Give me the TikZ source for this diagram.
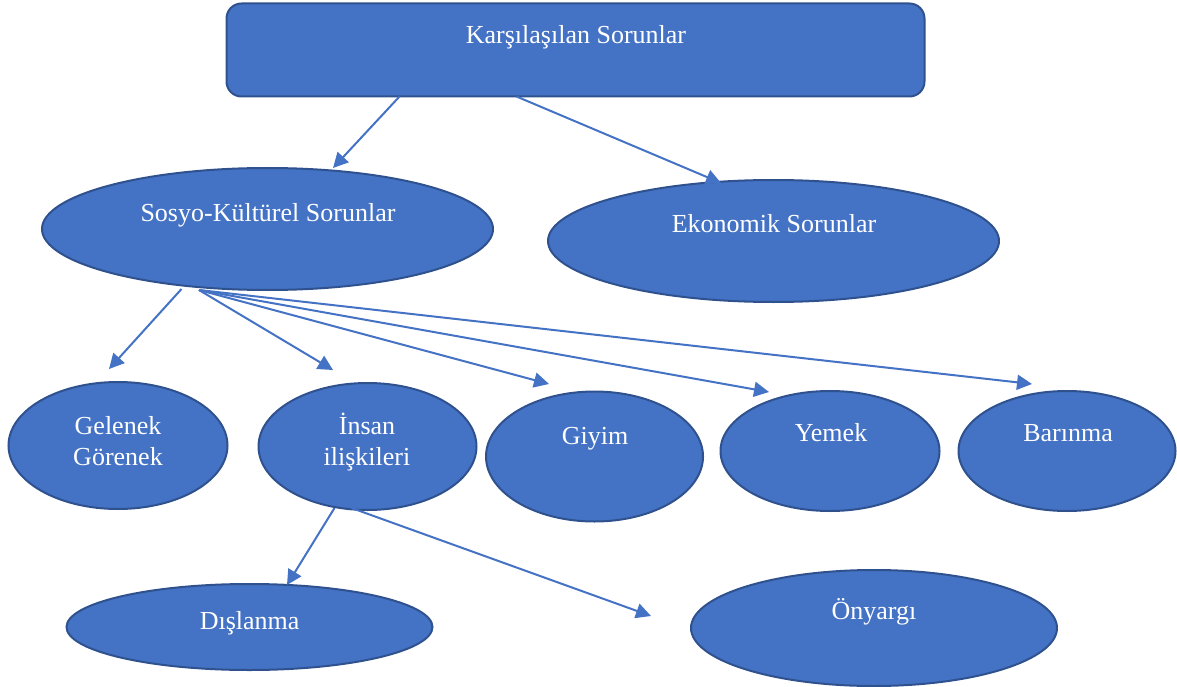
\documentclass[tikz,border=0pt]{standalone}
\usepackage{fontspec}
\setmainfont{Liberation Serif}
\usetikzlibrary{shapes.geometric,arrows.meta,calc}
\definecolor{fillblue}{HTML}{4472C4}
\definecolor{edgeblue}{HTML}{2F528F}
\definecolor{arrowblue}{HTML}{4472C4}
\tikzset{
  topbox/.style={draw=edgeblue,fill=fillblue,line width=2pt,rounded corners=15pt,inner sep=0pt,outer sep=0pt},
  ellbox/.style={ellipse,draw=edgeblue,fill=fillblue,line width=2pt,inner sep=0pt,outer sep=0pt},
  lbl/.style={text=white,font=\fontsize{26}{31}\selectfont,anchor=base,inner sep=0pt},
  arr/.style={draw=arrowblue,line width=2pt,-{Triangle[length=15pt,width=15pt]}}
}
\begin{document}
\begin{tikzpicture}[x=1pt,y=-1pt]
\useasboundingbox (0,0) rectangle (1177,687);
% nodes
\node[topbox,minimum width=698,minimum height=93] (top) at (575.5,50) {};
\node[lbl] (topt) at (576,44) {Karşılaşılan Sorunlar};

\node[ellbox,minimum width=451,minimum height=122] (sosyo) at (267.5,229) {};
\node[lbl] (sosyot) at (268,221) {Sosyo-Kültürel Sorunlar};

\node[ellbox,minimum width=451,minimum height=122] (eko) at (773.5,241) {};
\node[lbl] (ekot) at (774,232) {Ekonomik Sorunlar};

\node[ellbox,minimum width=219,minimum height=127] (gel) at (118,445.5) {};
\node[lbl] (gelt) at (118,434) {\begin{tabular}[t]{@{}c@{}}Gelenek\\Görenek\end{tabular}};

\node[ellbox,minimum width=218,minimum height=127] (insan) at (367.5,446.5) {};
\node[lbl] (insant) at (367,434) {\begin{tabular}[t]{@{}c@{}}İnsan\\ilişkileri\end{tabular}};

\node[ellbox,minimum width=217,minimum height=130] (giyim) at (594.5,456.5) {};
\node[lbl] (giyimt) at (595,444) {Giyim};

\node[ellbox,minimum width=219,minimum height=120] (yemek) at (830,451) {};
\node[lbl] (yemekt) at (831,441.5) {Yemek};

\node[ellbox,minimum width=217,minimum height=120] (barin) at (1067,451) {};
\node[lbl] (barint) at (1068,441.5) {Barınma};

\node[ellbox,minimum width=366,minimum height=86] (disl) at (249.5,627) {};
\node[lbl] (dislt) at (249.6,629) {Dışlanma};

\node[ellbox,minimum width=366,minimum height=116] (onyar) at (874,628) {};
\node[lbl] (onyart) at (874,619) {Önyargı};

% arrow tips
\coordinate (tSosyo) at (333,168);
\coordinate (tEko) at (721,183);
\coordinate (tGel) at (109,369);
\coordinate (tInsan) at (333,370);
\coordinate (tGiyim) at (549,384);
\coordinate (tYemek) at (769,392);
\coordinate (tBarin) at (1032,384);
\coordinate (tDisl) at (287,585);
\coordinate (tOnyar) at (651,616);

% connectors
\draw[arr] ($(top.south)+(-176,0)$) -- (tSosyo);
\draw[arr] ($(top.south)+(-59,0)$) -- (tEko);
\draw[arr] ($(sosyo.south)+(-86,-1)$) -- (tGel);
\draw[arr] ($(sosyo.south)+(-68.5,0)$) -- (tInsan);
\draw[arr] ($(sosyo.south)+(-68.5,0)$) -- (tGiyim);
\draw[arr] ($(sosyo.south)+(-68.5,0)$) -- (tYemek);
\draw[arr] ($(sosyo.south)+(-68.5,0)$) -- (tBarin);
\draw[arr] ($(insan.south)+(-33,-2)$) -- (tDisl);
\draw[arr] ($(insan.south)+(-16,-2)$) -- (tOnyar);
\end{tikzpicture}
\end{document}
